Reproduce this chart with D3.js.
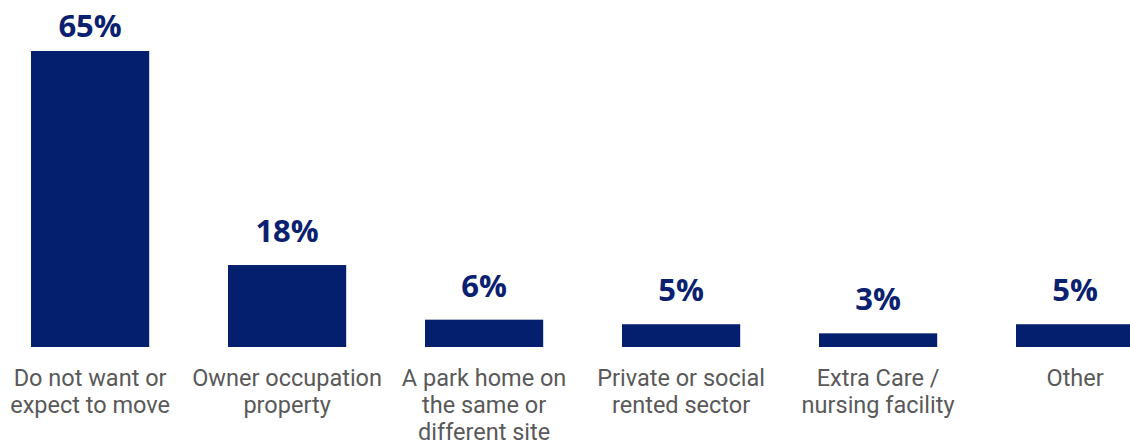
<!DOCTYPE html>
<html>
<head>
<meta charset="utf-8">
<script src="https://cdn.jsdelivr.net/npm/d3@7"></script>
<style>
  html, body { margin: 0; padding: 0; background: #ffffff; }
  svg { display: block; }
</style>
</head>
<body>
<svg id="chart" width="1130" height="446"></svg>
<script>
// Housing intentions: share of respondents per option
const categories = [
  ["Do not want or", "expect to move"],
  ["Owner occupation", "property"],
  ["A park home on", "the same or", "different site"],
  ["Private or social", "rented sector"],
  ["Extra Care /", "nursing facility"],
  ["Other"]
];
const values = [65, 18, 6, 5, 3, 5];
const valueLabels = ["65%", "18%", "6%", "5%", "3%", "5%"];

const W = 1130, H = 446;
const baseline = 347;
const barColor = "#041f6e";
const labelColor = "#0a2170";
const catColor = "#595959";

const svg = d3.select("#chart");

const step = 197;
const x = d3.scaleBand()
  .domain(d3.range(values.length))
  .range([31 - 0.2 * step, 31 - 0.2 * step + step * values.length])
  .paddingInner(0.4)
  .paddingOuter(0.2);

const y = d3.scaleLinear()
  .domain([0, 65])
  .range([baseline, 51]);

// bars
svg.append("g")
  .selectAll("rect")
  .data(values)
  .join("rect")
  .attr("x", (d, i) => x(i))
  .attr("y", d => y(d))
  .attr("width", x.bandwidth())
  .attr("height", d => baseline - y(d))
  .attr("fill", barColor);

// value labels above bars
svg.append("g")
  .selectAll("text")
  .data(values)
  .join("text")
  .attr("x", (d, i) => x(i) + x.bandwidth() / 2)
  .attr("y", d => Math.max(y(d) - 23, 37))
  .attr("text-anchor", "middle")
  .attr("font-family", "'Open Sans', sans-serif")
  .attr("font-weight", 700)
  .attr("font-size", "31px")
  .attr("fill", labelColor)
  .text((d, i) => valueLabels[i]);

// category labels below the baseline
const cat = svg.append("g")
  .selectAll("text")
  .data(categories)
  .join("text")
  .attr("x", (d, i) => x(i) + x.bandwidth() / 2)
  .attr("y", 385.5)
  .attr("text-anchor", "middle")
  .attr("font-family", "Roboto, sans-serif")
  .attr("font-size", "23.5px")
  .attr("fill", catColor);

cat.selectAll("tspan")
  .data(d => d)
  .join("tspan")
  .attr("x", function () { return d3.select(this.parentNode).attr("x"); })
  .attr("dy", (d, j) => j === 0 ? 0 : 27)
  .text(d => d);
</script>
</body>
</html>
